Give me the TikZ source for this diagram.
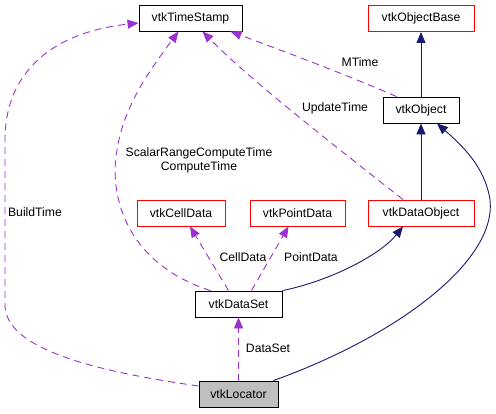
\documentclass[tikz,border=0pt]{standalone}
\usepackage{fontspec}
\setmainfont{Liberation Sans}
\usetikzlibrary{arrows.meta}
\definecolor{edgepurple}{HTML}{9A32CD}
\definecolor{edgenavy}{HTML}{191970}
\definecolor{locgray}{HTML}{BFBFBF}
\definecolor{boxred}{HTML}{FF0000}
\begin{document}
\begin{tikzpicture}[x=1pt,y=-1pt,
  box/.style={draw=black, fill=white, line width=0.9pt, rectangle, inner sep=0pt,
    minimum height=26pt, font=\fontsize{12.2}{14}\selectfont},
  redbox/.style={box, draw=boxred},
  usage/.style={draw=edgepurple, line width=0.9pt, dash pattern=on 7pt off 5pt,
    -{Triangle[length=11pt,width=9pt]}},
  inherit/.style={draw=edgenavy, line width=0.9pt, -{Triangle[length=11pt,width=9pt]}},
  lbl/.style={font=\fontsize{12.2}{14}\selectfont, inner sep=0pt, align=center}
]
\useasboundingbox (0,0) rectangle (496,413);

\node[box, minimum width=103pt] (ts) at (190.5,18) {vtkTimeStamp};
\node[redbox, minimum width=106pt] (ob) at (421,18.5) {vtkObjectBase};
\node[box, minimum width=76pt] (obj) at (421,110) {vtkObject};
\node[redbox, minimum width=88pt] (cd) at (181,213) {vtkCellData};
\node[redbox, minimum width=95pt] (pd) at (297.5,213) {vtkPointData};
\node[redbox, minimum width=106pt] (dob) at (421,213) {vtkDataObject};
\node[box, minimum width=87pt] (ds) at (238.5,304) {vtkDataSet};
\node[box, fill=locgray, minimum width=79pt] (loc) at (238.5,394) {vtkLocator};

% inheritance
\draw[inherit] (obj.north) -- (ob.south);
\draw[inherit] (dob.north) -- (obj.south);
\draw[inherit] (ds.north east) .. controls (330,281) and (380,255) .. ([shift={(-18,0)}]dob.south);
\draw[inherit] ([shift={(-5,0)}]loc.north east) .. controls (395,337) and (497,262) .. (490,200)
   .. controls (485,165) and (458,142) .. ([shift={(16,0)}]obj.south);

% usage
\draw[usage] ([shift={(14,0)}]obj.north west) .. controls (340,72) and (280,50) .. ([shift={(-12,0)}]ts.south east);
\node[lbl] (lmt) at (360,62) {MTime};

\draw[usage] ([shift={(-18,0)}]dob.north) .. controls (340,150) and (250,80) .. ([shift={(12,0)}]ts.south);
\node[lbl] (lut) at (335,108) {UpdateTime};

\draw[usage] ([shift={(-28,0)}]ds.north) .. controls (130,265) and (108,200) .. (117,150)
   .. controls (124,105) and (150,70) .. ([shift={(-12,0)}]ts.south);
\node[lbl] (lsr) at (199,160) {ScalarRangeComputeTime\\ComputeTime};

\draw[usage] ([shift={(-10,0)}]ds.north) -- ([shift={(9,0)}]cd.south);
\node[lbl] (lcd) at (243,257) {CellData};

\draw[usage] ([shift={(13,0)}]ds.north) -- ([shift={(-9,0)}]pd.south);
\node[lbl] (lpd) at (311,257) {PointData};

\draw[usage] (loc.north) -- (ds.south);
\node[lbl] (lds) at (268,348) {DataSet};

\draw[usage] ([shift={(0,-8)}]loc.west) .. controls (100,372) and (5,350) .. (5,305)
   -- (5,140) .. controls (5,70) and (55,32) .. ([shift={(0,5)}]ts.west);
\node[lbl] (lbt) at (35,212) {BuildTime};
\end{tikzpicture}
\end{document}
